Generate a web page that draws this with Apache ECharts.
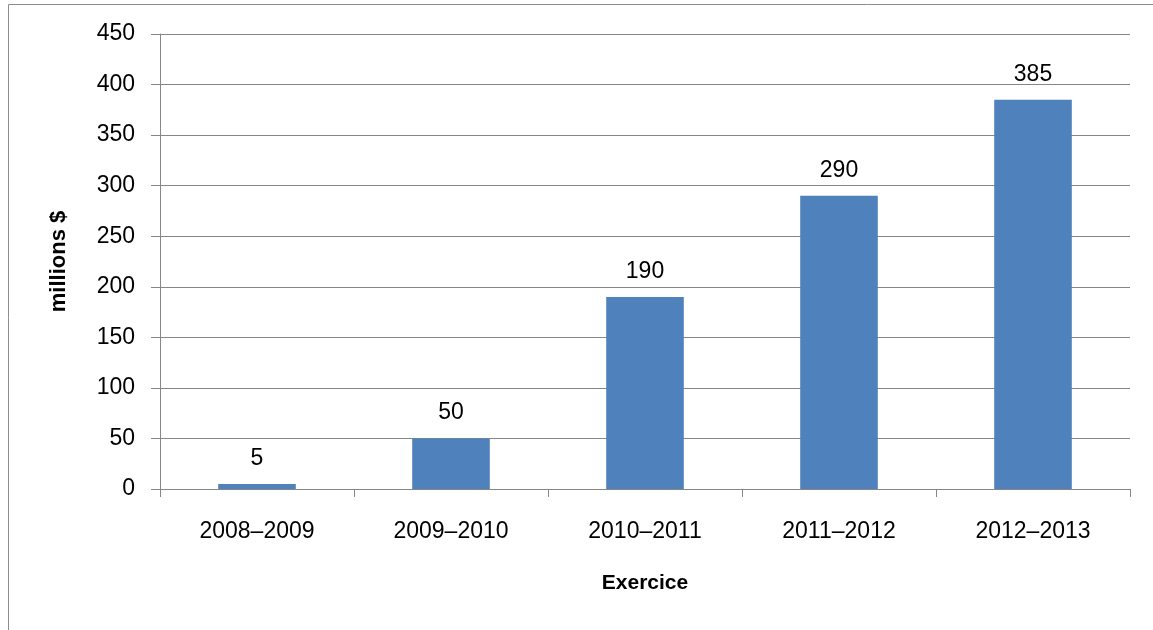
<!DOCTYPE html>
<html>
<head>
<meta charset="utf-8">
<script src="https://cdn.jsdelivr.net/npm/echarts@6/dist/echarts.min.js"></script>
<style>
html,body{margin:0;padding:0;background:#fff;}
#chart{width:1153px;height:630px;}
</style>
</head>
<body>
<div id="chart"></div>
<script>
const categories = ['2008–2009', '2009–2010', '2010–2011', '2011–2012', '2012–2013'];
const values = [5, 50, 190, 290, 385];
const yTitle = 'millions $';
const xTitle = 'Exercice';

const FONT = '"Liberation Sans", Arial, sans-serif';
const chart = echarts.init(document.getElementById('chart'));
chart.setOption({
  animation: false,
  backgroundColor: '#fff',
  graphic: [{
    type: 'rect',
    shape: { x: 8.5, y: 4.5, width: 1170, height: 650 },
    style: { fill: 'none', stroke: '#8c8c8c', lineWidth: 1 },
    silent: true
  }],
  grid: { left: 160, right: 23, top: 34, bottom: 141 },
  xAxis: {
    type: 'category',
    data: categories,
    name: xTitle,
    nameLocation: 'middle',
    nameGap: 84,
    nameTextStyle: { fontFamily: FONT, fontSize: 21, fontWeight: 'bold', color: '#000' },
    axisLine: { lineStyle: { color: '#868686', width: 1 } },
    axisTick: { show: true, length: 8, lineStyle: { color: '#868686' } },
    axisLabel: { fontFamily: FONT, fontSize: 23, color: '#000', margin: 31 }
  },
  yAxis: {
    type: 'value',
    min: 0, max: 450, interval: 50,
    name: yTitle,
    nameLocation: 'middle',
    nameRotate: 90,
    nameGap: 90,
    nameTextStyle: { fontFamily: FONT, fontSize: 22, fontWeight: 'bold', color: '#000' },
    axisLine: { show: true, lineStyle: { color: '#868686', width: 1 } },
    axisTick: { show: true, length: 9, lineStyle: { color: '#868686' } },
    splitLine: { show: true, lineStyle: { color: '#868686', width: 1 } },
    axisLabel: { fontFamily: FONT, fontSize: 23, color: '#000', margin: 25 }
  },
  series: [{
    type: 'bar',
    data: values,
    barWidth: '40%',
    itemStyle: { color: '#4F81BD' },
    label: { show: true, position: 'top', distance: 14, fontFamily: FONT, fontSize: 23, color: '#000' }
  }]
});
</script>
</body>
</html>
